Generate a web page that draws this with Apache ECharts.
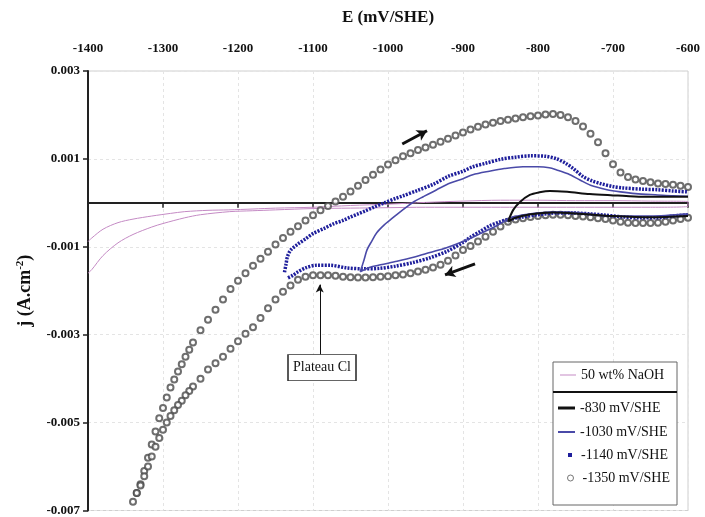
<!DOCTYPE html>
<html>
<head>
<meta charset="utf-8">
<script src="https://cdn.jsdelivr.net/npm/echarts@6/dist/echarts.min.js"></script>
<style>
  html, body { margin: 0; padding: 0; background: #fff; }
  #chart { width: 705px; height: 517px; }
</style>
</head>
<body>
<div id="chart"></div>
<script>
// axis ticks
const xTicks = [-1400, -1300, -1200, -1100, -1000, -900, -800, -700, -600];
const yTicks = [0.003, 0.001, -0.001, -0.003, -0.005, -0.007];

// 50 wt% NaOH blank (out and back)
const naohOutE = [-1400, -1395, -1380, -1360, -1340, -1315, -1290, -1271, -1240, -1213, -1180, -1150, -1100, -1050, -1000, -950, -900, -850, -800, -750, -700, -650, -600];
const naohOutJ = [-0.00088, -0.0008, -0.0006, -0.00045, -0.00037, -0.0003, -0.00024, -0.0002, -0.00017, -0.00016, -0.00014, -0.00012, -0.0001, -0.00006, -0.00003, 0.00001, 0.00004, 0.00006, 0.00006, 0.00005, 0.00005, 0.00004, 0.00003];
const naohBackE = [-600, -650, -700, -750, -800, -850, -900, -950, -1000, -1050, -1100, -1150, -1181, -1211, -1250, -1271, -1300, -1315, -1340, -1360, -1380, -1395, -1400];
const naohBackJ = [-0.00008, -0.0001, -0.0001, -0.0001, -0.0001, -0.0001, -0.0001, -0.0001, -0.00011, -0.00012, -0.00013, -0.00016, -0.00018, -0.0002, -0.00027, -0.00034, -0.00047, -0.00055, -0.00072, -0.00091, -0.0012, -0.00152, -0.0016];

// -830 mV/SHE
const e830OutE = [-840, -833, -824, -811, -798, -784, -761, -731, -700, -687, -657, -630, -600];
const e830OutJ = [-0.00043, -0.00016, 0.00002, 0.00018, 0.00024, 0.00027, 0.00025, 0.0002, 0.00017, 0.00016, 0.00014, 0.00014, 0.00014];
const e830BackE = [-600, -650, -700, -750, -780, -810, -830, -840];
const e830BackJ = [-0.0003, -0.00033, -0.0003, -0.00024, -0.00022, -0.00026, -0.00034, -0.00043];

// -1030 mV/SHE
const e1030OutE = [-1037, -1032, -1028, -1022, -1015, -1005, -997, -985, -975, -965, -953, -935, -917, -900, -887, -865, -845, -820, -800, -785, -775, -760, -744, -730, -708, -690, -670, -640, -620, -600];
const e1030OutJ = [-0.00157, -0.0013, -0.00107, -0.00088, -0.00068, -0.0005, -0.00039, -0.00022, -0.00009, 0.00003, 0.00014, 0.0003, 0.00045, 0.00055, 0.00064, 0.00072, 0.00078, 0.00082, 0.00082, 0.0008, 0.00075, 0.00066, 0.00052, 0.0004, 0.0003, 0.00025, 0.00021, 0.00018, 0.00016, 0.00015];
const e1030BackE = [-600, -650, -700, -750, -780, -810, -835, -855, -877, -900, -922, -944, -966, -988, -1010, -1025, -1037];
const e1030BackJ = [-0.00025, -0.0003, -0.0003, -0.00022, -0.00021, -0.00025, -0.00033, -0.00052, -0.0007, -0.00088, -0.00102, -0.00113, -0.00124, -0.00133, -0.00141, -0.00147, -0.00157];

// -1140 mV/SHE
const e1140OutE = [-1138, -1136, -1134, -1130, -1121, -1110, -1100, -1085, -1073, -1060, -1051, -1040, -1030, -1018, -1005, -990, -980, -961, -940, -920, -900, -887, -870, -850, -830, -810, -790, -775, -763, -753, -740, -728, -717, -700, -687, -660, -641, -620, -600];
const e1140OutJ = [-0.00158, -0.0014, -0.00122, -0.00108, -0.00095, -0.00082, -0.0007, -0.00058, -0.00048, -0.0004, -0.00033, -0.00025, -0.00018, -0.00009, 0, 0.0001, 0.00016, 0.00028, 0.00042, 0.0006, 0.00072, 0.00082, 0.0009, 0.00099, 0.00104, 0.00107, 0.00106, 0.001, 0.0009, 0.00078, 0.0006, 0.0005, 0.00044, 0.00037, 0.00034, 0.00031, 0.0003, 0.00027, 0.00025];
const e1140BackE = [-600, -620, -641, -665, -687, -710, -731, -755, -775, -800, -820, -840, -852, -864, -877, -890, -900, -921, -944, -967, -990, -1011, -1033, -1055, -1077, -1095, -1110, -1120, -1127, -1135];
const e1140BackJ = [-0.00027, -0.0003, -0.00034, -0.00034, -0.00032, -0.00028, -0.00025, -0.00023, -0.00023, -0.00027, -0.00032, -0.00038, -0.00044, -0.00052, -0.00065, -0.00078, -0.0009, -0.0011, -0.00125, -0.00136, -0.00144, -0.00149, -0.0015, -0.00148, -0.00142, -0.00142, -0.00148, -0.00157, -0.00165, -0.00172];

// -1350 mV/SHE
const e1350OutE = [-1340, -1335, -1330, -1325, -1320, -1315, -1310, -1305, -1300, -1295, -1290, -1285, -1280, -1275, -1270, -1265, -1260, -1250, -1240, -1230, -1220, -1210, -1200, -1190, -1180, -1170, -1160, -1150, -1140, -1130, -1120, -1110, -1100, -1090, -1080, -1070, -1060, -1050, -1040, -1030, -1020, -1010, -1000, -990, -980, -970, -960, -950, -940, -930, -920, -910, -900, -890, -880, -870, -860, -850, -840, -830, -820, -810, -800, -790, -780, -770, -760, -750, -740, -730, -720, -710, -700, -690, -680, -670, -660, -650, -640, -630, -620, -610, -600];
const e1350OutJ = [-0.0068, -0.0066, -0.0064, -0.0061, -0.0058, -0.0055, -0.0052, -0.0049, -0.00467, -0.00443, -0.0042, -0.00402, -0.00384, -0.00367, -0.0035, -0.00334, -0.00318, -0.0029, -0.00266, -0.00243, -0.0022, -0.00196, -0.00177, -0.0016, -0.00143, -0.00127, -0.00111, -0.00095, -0.0008, -0.00066, -0.00053, -0.0004, -0.00028, -0.00017, -0.00007, 0.00003, 0.00014, 0.00026, 0.00039, 0.00052, 0.00064, 0.00076, 0.00087, 0.00097, 0.00106, 0.00113, 0.0012, 0.00126, 0.00132, 0.00139, 0.00146, 0.00153, 0.0016, 0.00167, 0.00173, 0.00178, 0.00182, 0.00186, 0.00189, 0.00192, 0.00195, 0.00197, 0.00199, 0.00201, 0.00202, 0.002, 0.00195, 0.00186, 0.00174, 0.00157, 0.00138, 0.00113, 0.00088, 0.00069, 0.00059, 0.00053, 0.0005, 0.00047, 0.00044, 0.00043, 0.00041, 0.00039, 0.00036];
const e1350BackE = [-600, -610, -620, -630, -640, -650, -660, -670, -680, -690, -700, -710, -720, -730, -740, -750, -760, -770, -780, -790, -800, -810, -820, -830, -840, -850, -860, -870, -880, -890, -900, -910, -920, -930, -940, -950, -960, -970, -980, -990, -1000, -1010, -1020, -1030, -1040, -1050, -1060, -1070, -1080, -1090, -1100, -1110, -1120, -1130, -1140, -1150, -1160, -1170, -1180, -1190, -1200, -1210, -1220, -1230, -1240, -1250, -1260, -1265, -1270, -1275, -1280, -1285, -1290, -1295, -1300, -1305, -1310, -1315, -1320, -1325, -1330, -1335];
const e1350BackJ = [-0.00034, -0.00037, -0.0004, -0.00043, -0.00045, -0.00046, -0.00046, -0.00046, -0.00045, -0.00043, -0.0004, -0.00037, -0.00035, -0.00033, -0.00031, -0.0003, -0.00028, -0.00027, -0.00027, -0.00028, -0.0003, -0.00032, -0.00035, -0.00038, -0.00043, -0.00054, -0.00066, -0.00077, -0.00088, -0.00098, -0.00107, -0.0012, -0.00132, -0.00141, -0.00147, -0.00152, -0.00156, -0.0016, -0.00163, -0.00165, -0.00167, -0.00168, -0.00169, -0.0017, -0.0017, -0.00169, -0.00168, -0.00166, -0.00165, -0.00165, -0.00165, -0.00168, -0.00175, -0.00188, -0.00202, -0.0022, -0.0024, -0.00262, -0.00283, -0.00298, -0.00315, -0.00332, -0.0035, -0.00365, -0.00379, -0.004, -0.00418, -0.00428, -0.00438, -0.0045, -0.0046, -0.00472, -0.00485, -0.005, -0.00516, -0.00535, -0.00555, -0.00577, -0.006, -0.00622, -0.00643, -0.0066];

const serif = 'Liberation Serif';

function pairs(xs, ys) {
  return xs.map((x, i) => [x, ys[i]]);
}
// a '-' splits the out and back branches so no vertical joining segment is drawn
function loop(outE, outJ, backE, backJ) {
  return pairs(outE, outJ).concat(['-'], pairs(backE, backJ));
}

const chart = echarts.init(document.getElementById('chart'));

function legendBox(item, top, left, w, h, padLeft) {
  return {
    left: left, top: top, padding: 0, itemWidth: w, itemHeight: h,
    selectedMode: false, orient: 'vertical',
    textStyle: { fontFamily: serif, fontSize: 14, color: '#111', padding: [0, 0, 0, padLeft || 0] },
    data: [item]
  };
}

const option = {
  animation: false,
  grid: { left: 88, right: 17, top: 71, bottom: 6, show: true, borderColor: '#cfcfcf', borderWidth: 1 },
  xAxis: [
    {
      type: 'value', position: 'top', min: -1400, max: -600, interval: 100,
      name: 'E (mV/SHE)', nameLocation: 'middle', nameGap: 45, nameMoveOverlap: false,
      nameTextStyle: { fontFamily: serif, fontWeight: 'bold', fontSize: 17, color: '#111' },
      axisLine: { show: false, onZero: false },
      axisTick: { show: false },
      axisLabel: { fontFamily: serif, fontWeight: 'bold', fontSize: 13, color: '#111', margin: 16, formatter: v => String(v) },
      splitLine: { show: true, lineStyle: { color: '#e4e4e4', type: [3, 3] } }
    },
    {
      type: 'value', position: 'bottom', min: -1400, max: -600, interval: 100,
      axisLine: { show: true, onZero: true, lineStyle: { color: '#222', width: 2 } },
      axisTick: { show: true, length: 5, lineStyle: { color: '#222', width: 1.5 } },
      axisLabel: { show: false },
      splitLine: { show: false }
    }
  ],
  yAxis: {
    type: 'value', min: -0.007, max: 0.003,
    name: 'j (A.cm{s|-2})', nameLocation: 'middle', nameGap: 52, nameRotate: 90, nameMoveOverlap: false,
    nameTextStyle: {
      fontFamily: serif, fontWeight: 'bold', fontSize: 18, color: '#111',
      rich: { s: { fontFamily: serif, fontWeight: 'bold', fontSize: 11, color: '#111', verticalAlign: 'top', padding: [0, 0, 10, 0] } }
    },
    axisLine: { show: true, onZero: false, lineStyle: { color: '#222', width: 2 } },
    axisTick: { show: true, length: 5, customValues: yTicks, lineStyle: { color: '#222', width: 1.5 } },
    axisLabel: {
      customValues: yTicks, fontFamily: serif, fontWeight: 'bold', fontSize: 13, color: '#111', margin: 8,
      formatter: v => v.toFixed(3)
    },
    splitLine: { show: true, lineStyle: { color: '#e4e4e4', type: [3, 3] } }
  },
  legend: [
    legendBox({ name: '50 wt% NaOH', icon: 'rect', itemStyle: { color: '#c48ac4' } }, 368, 560, 16, 1),
    legendBox({ name: '-830 mV/SHE', icon: 'rect', itemStyle: { color: '#111' } }, 401, 558, 17, 3),
    legendBox({ name: '-1030 mV/SHE', icon: 'rect', itemStyle: { color: '#4a4aa8' } }, 425, 558, 17, 2),
    legendBox({ name: '-1140 mV/SHE', icon: 'rect', itemStyle: { color: '#1f1f9c' } }, 448, 568, 4, 4, 4),
    legendBox({ name: '-1350 mV/SHE', icon: 'circle', itemStyle: { color: '#fff', borderColor: '#555', borderWidth: 1 } }, 471, 567, 6, 6, 4)
  ],
  graphic: [
    { type: 'rect', z: 3, shape: { x: 553, y: 362, width: 124, height: 143 }, style: { fill: '#fff', stroke: '#666', lineWidth: 1 } },
    { type: 'line', z: 5, shape: { x1: 553, y1: 392, x2: 677, y2: 392 }, style: { stroke: '#111', lineWidth: 2 } }
  ],
  series: [
    {
      name: '50 wt% NaOH', type: 'line', symbol: 'none', smooth: 0.3,
      data: pairs(naohOutE, naohOutJ).concat(pairs(naohBackE, naohBackJ)),
      lineStyle: { color: '#c48ac4', width: 1 }, itemStyle: { color: '#c48ac4' }, z: 2
    },
    {
      name: '-1350 mV/SHE', type: 'scatter', symbol: 'emptyCircle', symbolSize: 6,
      data: pairs(e1350OutE, e1350OutJ).concat(pairs(e1350BackE, e1350BackJ)),
      itemStyle: { color: '#4a4a4a', borderColor: '#4a4a4a', borderWidth: 1 }, z: 3
    },
    {
      name: '-1140 mV/SHE', type: 'line', symbol: 'none', smooth: 0.3,
      data: loop(e1140OutE, e1140OutJ, e1140BackE, e1140BackJ),
      lineStyle: { color: '#1f1f9c', width: 3.5, type: [2, 1.3] }, itemStyle: { color: '#1f1f9c' }, z: 4
    },
    {
      name: '-1030 mV/SHE', type: 'line', symbol: 'none', smooth: 0.3,
      data: loop(e1030OutE, e1030OutJ, e1030BackE, e1030BackJ),
      lineStyle: { color: '#4a4aa8', width: 1.6 }, itemStyle: { color: '#4a4aa8' }, z: 5
    },
    {
      name: '-830 mV/SHE', type: 'line', symbol: 'none', smooth: 0.3,
      data: loop(e830OutE, e830OutJ, e830BackE, e830BackJ),
      lineStyle: { color: '#111', width: 2 }, itemStyle: { color: '#111' }, z: 6
    },
    {
      name: 'annotations', type: 'line', data: [], silent: true, z: 7,
      markLine: {
        silent: true, symbol: ['none', 'arrow'], symbolSize: [9, 10], animation: false,
        label: { show: false },
        lineStyle: { color: '#111', width: 3, type: 'solid' },
        data: [
          [{ coord: [-981, 0.00134] }, { coord: [-948, 0.00164] }],
          [{ coord: [-884, -0.00139] }, { coord: [-924, -0.00164] }],
          [{ coord: [-1091, -0.00345], lineStyle: { width: 1 } }, { coord: [-1091, -0.00186], symbolSize: [6, 8] }]
        ]
      },
      markPoint: {
        silent: true, animation: false,
        data: [{
          coord: [-1088, -0.00375], symbol: 'rect', symbolSize: [68, 26],
          itemStyle: { color: '#fff', borderColor: '#333', borderWidth: 1 },
          label: { show: true, position: 'inside', formatter: 'Plateau Cl', fontFamily: serif, fontSize: 14, color: '#111' }
        }]
      }
    }
  ]
};

chart.setOption(option);
</script>
</body>
</html>
